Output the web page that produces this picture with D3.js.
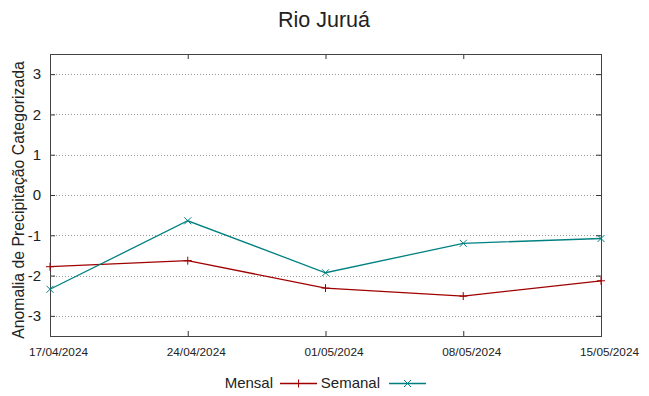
<!DOCTYPE html>
<html>
<head>
<meta charset="utf-8">
<script src="https://cdn.jsdelivr.net/npm/d3@7"></script>
<style>
  body { margin: 0; background: #fff; }
  text { font-family: "Liberation Sans", Arial, sans-serif; fill: #222; }
</style>
</head>
<body>
<div id="chart"></div>
<script>
// data
var dates = ["17/04/2024", "24/04/2024", "01/05/2024", "08/05/2024", "15/05/2024"];
var mensal = [-1.78, -1.63, -2.31, -2.51, -2.13];
var semanal = [-2.34, -0.64, -1.93, -1.20, -1.08];
var yTicks = [-3, -2, -1, 0, 1, 2, 3];

var svgWidth = 649;
var svgHeight = 396;

var plot = { left: 50, right: 601, top: 54, bottom: 336 };

var parse = d3.timeParse("%d/%m/%Y");
var fmt = d3.timeFormat("%d/%m/%Y");
var days = dates.map(parse);

var svg = d3.select("#chart")
    .append("svg")
    .attr("width", svgWidth)
    .attr("height", svgHeight);

var xScale = d3.scaleTime()
    .domain([days[0], days[days.length - 1]])
    .range([plot.left, plot.right]);

var yScale = d3.scaleLinear()
    .domain([-3.5, 3.5])
    .range([plot.bottom, plot.top]);

// grid lines (dotted, y only)
svg.append("g")
    .selectAll("line")
    .data(yTicks)
    .enter()
    .append("line")
    .attr("x1", plot.left)
    .attr("x2", plot.right)
    .attr("y1", d => Math.round(yScale(d)) + 0.5)
    .attr("y2", d => Math.round(yScale(d)) + 0.5)
    .attr("stroke", "#9a9a9a")
    .attr("stroke-width", 1)
    .attr("stroke-dasharray", "1,2");

// axes with inward ticks, gnuplot style
var tickLen = 5;
var yAxisL = d3.axisLeft(yScale).tickValues(yTicks).tickSizeInner(-tickLen).tickSizeOuter(0).tickPadding(9).tickFormat(d => String(d));
var yAxisR = d3.axisRight(yScale).tickValues(yTicks).tickSizeInner(-tickLen).tickSizeOuter(0).tickFormat("");
var xAxisB = d3.axisBottom(xScale).tickValues(days).tickSizeInner(-tickLen).tickSizeOuter(0).tickFormat(fmt).tickPadding(12);
var xAxisT = d3.axisTop(xScale).tickValues(days).tickSizeInner(-tickLen).tickSizeOuter(0).tickFormat("");

var gL = svg.append("g").attr("transform", `translate(${plot.left},0)`).call(yAxisL);
var gR = svg.append("g").attr("transform", `translate(${plot.right},0)`).call(yAxisR);
var gB = svg.append("g").attr("transform", `translate(0,${plot.bottom})`).call(xAxisB);
var gT = svg.append("g").attr("transform", `translate(0,${plot.top})`).call(xAxisT);

[gL, gR, gB, gT].forEach(g => {
    g.select(".domain").remove();
    g.selectAll(".tick line").attr("stroke", "#333");
});

gL.selectAll(".tick text")
    .style("font-family", "Liberation Sans, Arial, sans-serif")
    .style("font-size", "15px")
    .attr("fill", "#222");

gB.selectAll(".tick text")
    .style("font-family", "Liberation Sans, Arial, sans-serif")
    .style("font-size", "11.8px")
    .attr("fill", "#222")
    .attr("dx", 8);

// border box
svg.append("rect")
    .attr("x", plot.left + 0.5)
    .attr("y", plot.top + 0.5)
    .attr("width", plot.right - plot.left)
    .attr("height", plot.bottom - plot.top)
    .attr("fill", "none")
    .attr("stroke", "#444")
    .attr("stroke-width", 1);

// series
var series = [
    { name: "Mensal", values: mensal, color: "#a00000", mark: "plus" },
    { name: "Semanal", values: semanal, color: "#008080", mark: "cross" }
];

var line = d3.line()
    .x((d, i) => xScale(days[i]))
    .y(d => yScale(d));

function marker(g, x, y, type, color) {
    var s = type === "plus" ? 4 : 3.5;
    if (type === "plus") {
        g.append("path").attr("d", `M${x - s},${y}H${x + s}M${x},${y - s}V${y + s}`)
            .attr("stroke", color).attr("stroke-width", 1);
    } else {
        g.append("path").attr("d", `M${x - s},${y - s}L${x + s},${y + s}M${x - s},${y + s}L${x + s},${y - s}`)
            .attr("stroke", color).attr("stroke-width", 1);
    }
}

series.forEach(s => {
    var g = svg.append("g");
    g.append("path")
        .attr("d", line(s.values))
        .attr("fill", "none")
        .attr("stroke", s.color)
        .attr("stroke-width", 1.3);
    s.values.forEach((v, i) => marker(g, xScale(days[i]), yScale(v), s.mark, s.color));
});

// title
svg.append("text")
    .attr("x", 324)
    .attr("y", 27)
    .attr("text-anchor", "middle")
    .style("font-size", "21.5px")
    .text("Rio Juruá");

// y label
svg.append("text")
    .attr("transform", "rotate(-90)")
    .attr("x", -200)
    .attr("y", 24)
    .attr("text-anchor", "middle")
    .style("font-size", "15.8px")
    .text("Anomalia de Precipitação Categorizada");

// legend
var legend = [
    { textEnd: 273, x1: 280, x2: 317 },
    { textEnd: 380, x1: 389, x2: 426 }
];
series.forEach((s, i) => {
    var L = legend[i];
    svg.append("text")
        .attr("x", L.textEnd)
        .attr("y", 388)
        .attr("text-anchor", "end")
        .style("font-size", "15px")
        .text(s.name);
    var g = svg.append("g");
    g.append("line")
        .attr("x1", L.x1).attr("x2", L.x2)
        .attr("y1", 383.5).attr("y2", 383.5)
        .attr("stroke", s.color).attr("stroke-width", 1.3);
    marker(g, (L.x1 + L.x2) / 2, 383.5, s.mark, s.color);
});
</script>
</body>
</html>
